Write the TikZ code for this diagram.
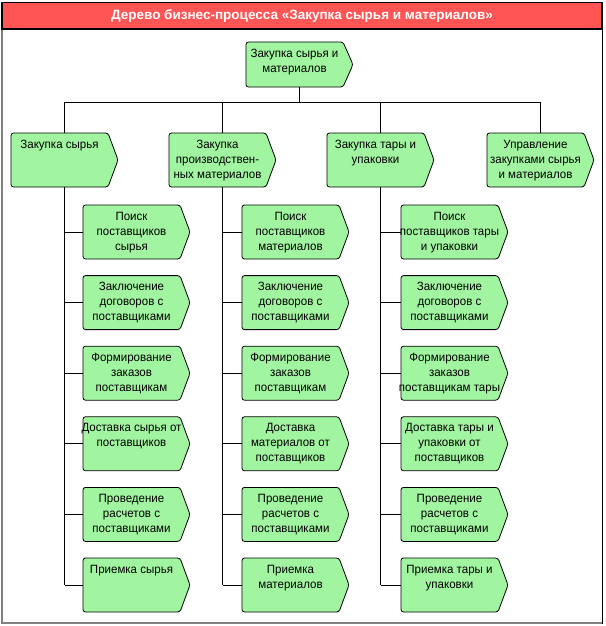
\documentclass[tikz,border=0pt]{standalone}
\usepackage{fontspec}
\setmainfont{Liberation Sans}
\newfontfamily\boxfont[FakeStretch=0.96]{Liberation Sans}
\definecolor{boxgreen}{RGB}{162,245,160}
\definecolor{titlered}{RGB}{255,85,85}
\tikzset{
  boxshape/.style={fill=boxgreen, draw=black, line width=0.8pt, rounded corners=2.5pt},
  boxtext/.style={inner sep=0pt, minimum width=107pt, font=\boxfont\fontsize{12}{15}\selectfont},
  conn/.style={draw=black, line width=0.9pt},
  titlebar/.style={fill=titlered, draw=black, line width=1.1pt, minimum width=600pt, minimum height=26.5pt, inner sep=0pt, text=white, font=\bfseries\fontsize{13.5}{15}\selectfont}
}
\newcommand\pbox[5]{%
  \draw[boxshape] ({#2},{#3}) -- ({#2+97},{#3}) -- ({#2+107},{#3+#4/2}) -- ({#2+97},{#3+#4}) -- ({#2},{#3+#4}) -- cycle;
  \node[boxtext, minimum height=#4pt] (#1) at ({#2+53.5},{#3+#4/2}) {\kern-16.5pt\parbox[c][#4pt][t]{130pt}{\centering\rule{0pt}{15pt}#5}\kern-6.5pt};
}
\begin{document}
\begin{tikzpicture}[x=1pt,y=-1pt]
\useasboundingbox (0,0) rectangle (605,626);
% frame
\draw[line width=1pt] (2,2.5) rectangle (602,623);
\draw[gray, line width=2pt] (1.5,2.5) -- (1.5,623) -- (602,623);
\node[titlebar] (title) at (302,15.75) {Дерево бизнес-процесса «Закупка сырья и материалов»};
% root
\pbox{root}{246}{42}{45}{Закупка сырья и\\материалов}
% level 1
\pbox{a1}{11}{133}{54}{Закупка сырья}
\pbox{a2}{169}{133}{54}{Закупка\\производствен-\\ных материалов}
\pbox{a3}{327}{133}{54}{Закупка тары и\\упаковки}
\pbox{a4}{487}{133}{54}{Управление\\закупками сырья\\и материалов}
% column 1
\pbox{c11}{83}{205}{54}{Поиск\\поставщиков\\сырья}
\pbox{c12}{83}{275.6}{54}{Заключение\\договоров с\\поставщиками}
\pbox{c13}{83}{346.2}{54}{Формирование\\заказов\\поставщикам}
\pbox{c14}{83}{416.8}{54}{Доставка сырья от\\поставщиков}
\pbox{c15}{83}{487.4}{54}{Проведение\\расчетов с\\поставщиками}
\pbox{c16}{83}{558}{54}{Приемка сырья}
% column 2
\pbox{c21}{242}{205}{54}{Поиск\\поставщиков\\материалов}
\pbox{c22}{242}{275.6}{54}{Заключение\\договоров с\\поставщиками}
\pbox{c23}{242}{346.2}{54}{Формирование\\заказов\\поставщикам}
\pbox{c24}{242}{416.8}{54}{Доставка\\материалов от\\поставщиков}
\pbox{c25}{242}{487.4}{54}{Проведение\\расчетов с\\поставщиками}
\pbox{c26}{242}{558}{54}{Приемка\\материалов}
% column 3
\pbox{c31}{401}{205}{54}{Поиск\\поставщиков тары\\и упаковки}
\pbox{c32}{401}{275.6}{54}{Заключение\\договоров с\\поставщиками}
\pbox{c33}{401}{346.2}{54}{Формирование\\заказов\\поставщикам тары}
\pbox{c34}{401}{416.8}{54}{Доставка тары и\\упаковки от\\поставщиков}
\pbox{c35}{401}{487.4}{54}{Проведение\\расчетов с\\поставщиками}
\pbox{c36}{401}{558}{54}{Приемка тары и\\упаковки}
% connectors
\coordinate (bus) at (300,102);
\draw[conn] (root.south) -- (root.south |- bus);
\draw[conn] (a1.north |- bus) -- (a4.north |- bus);
\foreach \n in {a1,a2,a3,a4} {\draw[conn] (\n.north |- bus) -- (\n.north);}
\foreach \c/\p in {1/a1,2/a2,3/a3} {
  \draw[conn] (\p.south) -- (\p.south |- c\c6.west);
  \foreach \r in {1,...,6} {\draw[conn] (\p.south |- c\c\r.west) -- (c\c\r.west);}
}
\end{tikzpicture}
\end{document}
